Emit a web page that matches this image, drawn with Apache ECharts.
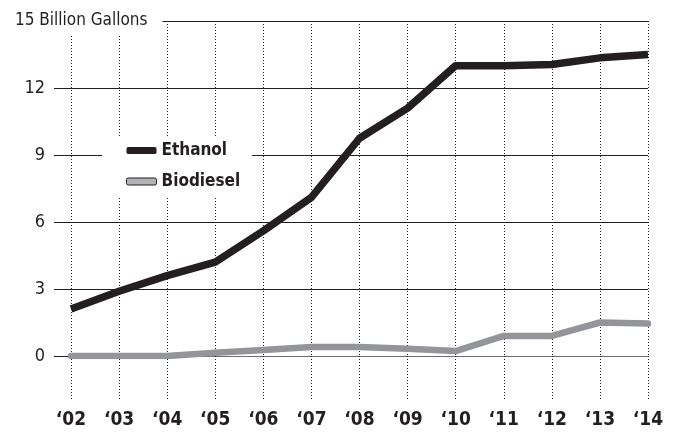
<!DOCTYPE html>
<html>
<head>
<meta charset="utf-8">
<script src="https://cdn.jsdelivr.net/npm/echarts@6/dist/echarts.min.js"></script>
<style>
  html, body { margin: 0; padding: 0; background: #fff; }
  #chart { width: 676px; height: 432px; }
</style>
</head>
<body>
<div id="chart"></div>
<script>
// 年份（x轴）
const years = ['\u201802', '\u201803', '\u201804', '\u201805', '\u201806', '\u201807', '\u201808',
  '\u201809', '\u201810', '\u201811', '\u201812', '\u201813', '\u201814'];
// 乙醇 / 生物柴油（十亿加仑）
const ethanol = [2.1, 2.9, 3.6, 4.2, 5.6, 7.1, 9.75, 11.1, 13.0, 13.0, 13.05, 13.35, 13.5];
const biodiesel = [0, 0, 0, 0.15, 0.27, 0.4, 0.4, 0.33, 0.22, 0.9, 0.9, 1.5, 1.45];
// y轴刻度
const yMin = 0;
const yMax = 15;
const yStep = 3;
const unitLabel = '15 Billion Gallons';

// DejaVu Sans 用 condensed 宽度，接近原图的窄体字
const FONT = "'DejaVu Sans', sans-serif";
const INK = '#231f20';

const chart = echarts.init(document.getElementById('chart'));

const option = {
  animation: false,
  backgroundColor: '#fff',
  // 左上角单位标签（白底遮住15那条线的左段）
  title: {
    text: unitLabel,
    left: 10,
    top: 7,
    padding: [5, 15, 5, 5],
    backgroundColor: '#fff',
    textStyle: {
      fontFamily: FONT,
      fontSize: 17,
      fontWeight: 'normal condensed',
      color: INK
    }
  },
  // 图例：白底，打断9那条线
  legend: {
    orient: 'vertical',
    left: 102,
    top: 136,
    padding: [6, 12, 6, 24],
    backgroundColor: '#fff',
    itemWidth: 30,
    itemHeight: 7,
    itemGap: 14,
    textStyle: {
      fontFamily: FONT,
      fontSize: 17,
      fontWeight: 'bold condensed',
      color: INK
    },
    data: [
      {name: 'Ethanol', icon: 'roundRect', itemStyle: {color: INK}},
      {name: 'Biodiesel', icon: 'roundRect', itemStyle: {color: '#b1b3b6', borderColor: INK, borderWidth: 1}}
    ]
  },
  grid: {
    left: 71,
    right: 28,
    top: 21,
    bottom: 76
  },
  xAxis: {
    type: 'category',
    data: years,
    boundaryGap: false,
    axisLine: {show: false},
    // 刻度线向下延伸，形成网格下方的虚线
    axisTick: {
      show: true,
      inside: false,
      length: 44,
      lineStyle: {color: INK, width: 1, type: [1, 2]}
    },
    splitLine: {
      show: true,
      lineStyle: {color: INK, width: 1, type: [1, 2]}
    },
    axisLabel: {
      margin: 55,
      fontFamily: FONT,
      fontSize: 19,
      fontWeight: 'bold condensed',
      color: INK
    }
  },
  yAxis: {
    type: 'value',
    min: yMin,
    max: yMax,
    interval: yStep,
    axisLine: {show: false},
    // 横线向左延伸到标签旁
    axisTick: {
      show: true,
      inside: false,
      length: 17,
      lineStyle: {color: INK, width: 1}
    },
    splitLine: {
      show: true,
      lineStyle: {color: ['#6d6e71', INK, INK, INK, INK, INK], width: 1}
    },
    axisLabel: {
      margin: 26,
      fontFamily: FONT,
      fontSize: 18,
      fontWeight: 'normal condensed',
      color: INK,
      formatter: v => (v === yMax ? '' : String(v))
    }
  },
  series: [
    {
      name: 'Ethanol',
      type: 'line',
      data: ethanol,
      symbol: 'none',
      lineStyle: {color: INK, width: 7.5, cap: 'butt', join: 'round'},
      itemStyle: {color: INK},
      z: 3
    },
    {
      name: 'Biodiesel',
      type: 'line',
      data: biodiesel,
      symbol: 'none',
      lineStyle: {color: '#939598', width: 6.5, cap: 'round', join: 'round'},
      itemStyle: {color: '#939598'},
      z: 2
    }
  ]
};

chart.setOption(option);
</script>
</body>
</html>
